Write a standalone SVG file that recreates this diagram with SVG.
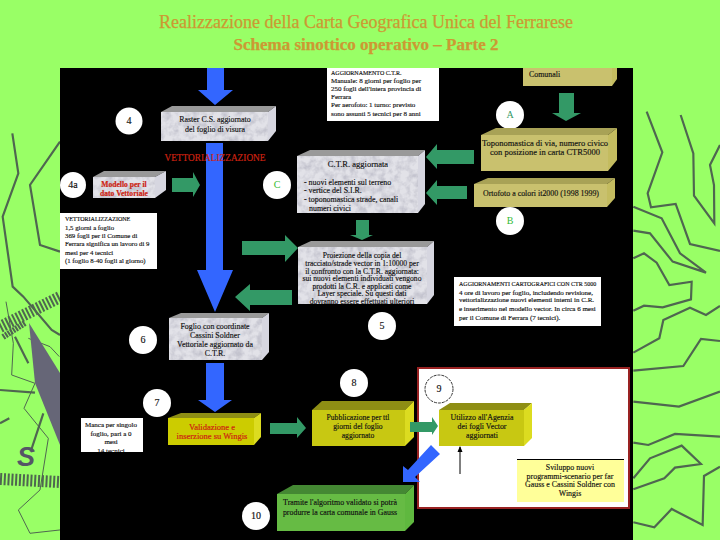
<svg xmlns="http://www.w3.org/2000/svg" width="720" height="540" viewBox="0 0 720 540">
<style>
text{font-family:"Liberation Serif","Times New Roman",serif;font-size:8.5px;fill:#111;stroke:#111;stroke-width:.15}
.c{text-anchor:middle}
.title{font-size:18px;fill:#cc9933;stroke:#cc9933;text-anchor:middle;stroke-width:.25}
.red{fill:#cc2211;stroke:#cc2211;stroke-width:.2}
.num{font-size:10px;text-anchor:middle}
.s8{font-size:7.900px}
.s76{font-size:7.600px}
.s7{font-size:7px}
.s68{font-size:6.800px}
.s6{font-size:6px}
.bg{fill:none;stroke:#4f6650;stroke-width:6.500;stroke-linejoin:miter}
.bg2{fill:none;stroke:#4f6650;stroke-width:3}
.blue{fill:#3366ff}
.green{fill:#339966}
.gf{fill:#e2e2e8;filter:url(#marble)}
.gt{fill:#999}
.gs{fill:#d6d6e0}
.tf{fill:#c9c16e}
.tt{fill:#a8a256}
.ts{fill:#c4bc60}
.yf{fill:#c8c812}
.yt{fill:#8e8e14}
.ys{fill:#dcdc20}
.vf{fill:#cccc00}
.gnf{fill:#66bb44}
.gnt{fill:#448833}
.gns{fill:#5fb83f}
.w{fill:#fff}
.circ{fill:#fff}
</style>
<defs>
<filter id="marble" x="0" y="0" width="100%" height="100%">
<feTurbulence type="fractalNoise" baseFrequency="0.14" numOctaves="3" seed="4" result="n"/>
<feColorMatrix in="n" type="matrix" values="0 0 0 0 .55  0 0 0 0 .55  0 0 0 0 .62  2.600 0 0 0 -1" result="m"/>
<feComposite in="m" in2="SourceAlpha" operator="in" result="mc"/>
<feMerge><feMergeNode in="SourceGraphic"/><feMergeNode in="mc"/></feMerge>
</filter>
<clipPath id="cpTop"><rect x="327" y="70" width="112" height="51"/></clipPath>
<clipPath id="cpPro"><rect x="298" y="247" width="129" height="57"/></clipPath>
<clipPath id="cpRW"><rect x="454" y="277" width="147" height="49"/></clipPath>
<clipPath id="cpW7"><rect x="81" y="418" width="62" height="34"/></clipPath>
<marker id="ah" markerWidth="6" markerHeight="6" refX="5" refY="3" orient="auto"><path d="M0 .5L6 3L0 5.500z" fill="#000"/></marker>
</defs>

<rect width="720" height="540" fill="#99ff66"/>
<g id="background-lines">
<g transform="translate(0,90) scale(.3333)">
<polyline class="bg" points="37,130 55,250 8,380 38,590 70,620 155,720 180,735"/>
<polyline class="bg" points="180,155 90,285 120,465 180,485"/>
<polyline class="bg" points="0,900 105,908"/>
<polyline class="bg" points="130,970 92,1085"/>
<polyline class="bg" points="0,1000 28,985"/>
<polyline class="bg" points="45,740 85,820"/>
<polyline class="bg2" points="18,635 40,760 35,855 105,880"/>
<polyline class="bg2" points="85,745 150,770 178,800"/>
<polyline class="bg2" points="105,880 72,955 145,1045 120,1200 55,1260 90,1330 180,1320"/>
</g>
<polygon points="29,323 60,373 60,445 35,383" fill="#666677"/>
<line x1="0" y1="327" x2="60" y2="297" stroke="#4f6650" stroke-width="12" stroke-dasharray="2 1.800"/>
<line x1="3" y1="337" x2="25" y2="323" stroke="#4f6650" stroke-width="6" stroke-dasharray="2 1"/>
<line x1="0" y1="479" x2="60" y2="482" stroke="#4f6650" stroke-width="12" stroke-dasharray="2 1.800"/>
<text x="26" y="466" style="font-family:'Liberation Sans',sans-serif;font-size:27px;font-weight:bold;font-style:italic;fill:#555566;stroke:none" text-anchor="middle">S</text>
<g transform="translate(630,90) scale(.3333)">
<polyline class="bg" points="50,65 97,187 53,310 63,352 137,342 180,462 270,483"/>
<polyline class="bg" points="152,75 190,190 192,317 253,400 252,285 240,225 270,165"/>
<polyline class="bg" points="10,350 95,385 150,490 228,548 128,515 60,430 10,422"/>
<polyline class="bg" points="10,505 42,490 80,518 118,585 185,575 183,628 98,652 42,647 10,662"/>
<polyline class="bg" points="10,788 88,745 100,690 180,653 228,675 270,648"/>
<polyline class="bg" points="10,842 160,828 213,747 270,753"/>
<polyline class="bg" points="10,935 147,950 270,905"/>
<polyline class="bg" points="10,1058 55,1065 135,1032 270,1040"/>
<polyline class="bg" points="10,1165 60,1105 155,1067 213,1122 135,1133 103,1165 10,1198"/>
<polyline class="bg" points="270,1130 222,1158 218,1305 125,1257 73,1312 10,1297"/>
</g>
</g>

<text class="title" x="366" y="28">Realizzazione della Carta Geografica Unica del Ferrarese</text>
<text class="title" x="366" y="50" style="font-size:17px;font-weight:bold">Schema sinottico operativo – Parte 2</text>

<rect x="60" y="68" width="573" height="472" fill="#000"/>

<g id="connectors">
<polygon class="blue" points="207,68 224,68 224,90 233,90 215,105 198,90 207,90"/>
<polygon class="blue" points="206,143 223,143 223,270 233,270 215,312 197,270 206,270"/>
<polygon class="blue" points="206,363 224,363 224,400 232,400 215,412 198,400 206,400"/>
<polygon class="green" points="172,178 193,178 193,172 200,185 193,197 193,192 172,192"/>
<polygon class="green" points="559,93 574,93 574,113 581,113 566,121 552,113 559,113"/>
<polygon class="green" points="474,150 437,150 437,144 426,157 437,169 437,164 474,164"/>
<polygon class="green" points="467,186 437,186 437,180 426,193 437,205 437,199 467,199"/>
<polygon class="green" points="356,220 369,220 369,235 373,235 362,240 350,235 356,235"/>
<polygon class="green" points="242,241 285,241 285,235 298,248 285,262 285,255 242,255"/>
<polygon class="green" points="292,290 250,290 250,284 235,297 250,311 250,305 292,305"/>
<polygon class="green" points="270,423 297,423 297,417 306,428 297,438 297,434 270,434"/>
</g>

<g id="node-4">
<polygon class="gt" points="161,112 172,106 276,106 268,112"/>
<polygon class="gs" points="268,112 276,106 276,131 268,141"/>
<rect class="gf" x="161" y="112" width="107" height="29"/>
<text class="c s8" x="215" y="122">Raster C.S. aggiornato</text>
<text class="c s8" x="215" y="131.500">del foglio di visura</text>
</g>
<g id="circle-4"><circle class="circ" cx="129" cy="121" r="13.500"/><text class="num" x="129" y="124">4</text></g>
<g id="label-vettorializzazione"><text class="c red" x="215" y="161" style="font-size:9.300px">VETTORIALIZZAZIONE</text></g>

<g id="circle-4a"><circle class="circ" cx="73" cy="185" r="13"/><text class="num" x="73" y="188">4a</text></g>
<g id="node-4a">
<polygon class="gt" points="93,177 104,171 166,171 155,177"/>
<polygon class="gs" points="155,177 166,171 166,190 155,198"/>
<rect class="gf" x="93" y="177" width="62" height="21"/>
<text class="c red s76" x="124" y="187" style="font-weight:bold">Modello per il</text>
<text class="c red s76" x="124" y="196" style="font-weight:bold">dato Vettoriale</text>
</g>
<g id="note-vett">
<rect class="w" x="60" y="213" width="97" height="56"/>
<text class="s6" x="65" y="221">VETTORIALIZZAZIONE</text>
<text class="s68" x="65" y="230">1,5 giorni a foglio</text>
<text class="s68" x="65" y="238">369 fogli per il Comune di</text>
<text class="s68" x="65" y="246">Ferrara significa un lavoro di 9</text>
<text class="s68" x="65" y="255">mesi per 4 tecnici</text>
<text class="s68" x="65" y="263">(1 foglio 8-40 fogli al giorno)</text>
</g>

<g id="note-top">
<rect class="w" x="327" y="68" width="112" height="53"/>
<g clip-path="url(#cpTop)">
<text class="s6" x="331" y="74.500">AGGIORNAMENTO C.T.R.</text>
<text class="s7" x="331" y="82.500">Manuale: 8 giorni per foglio per</text>
<text class="s7" x="331" y="90.500">250 fogli dell'intera provincia di</text>
<text class="s7" x="331" y="98.500">Ferrara</text>
<text class="s7" x="331" y="106.500">Per aerofoto: 1 turno: previsto</text>
<text class="s7" x="331" y="116">sono assunti 5 tecnici per 8 anni</text>
</g>
</g>

<g id="node-comunali">
<rect class="tf" x="523" y="68" width="89" height="18"/>
<polygon class="ts" points="612,68 617,68 617,79 612,86"/>
<text class="s8" x="529" y="77">Comunali</text>
</g>
<g id="circle-a"><circle class="circ" cx="510" cy="115" r="14"/><text class="num" x="510" y="118" style="fill:#339966;stroke:none">A</text></g>

<g id="node-toponomastica">
<polygon class="tt" points="481,135 496,128 617,128 608,135"/>
<polygon class="ts" points="608,135 617,128 617,160 608,171"/>
<rect class="tf" x="481" y="135" width="127" height="36"/>
<text class="c" x="545" y="146">Toponomastica di via, numero civico</text>
<text class="c" x="545" y="155">con posizione in carta CTR5000</text>
</g>
<g id="node-ortofoto">
<polygon class="tt" points="474,184 488,178 615,178 607,184"/>
<polygon class="ts" points="607,184 615,178 615,198 607,207"/>
<rect class="tf" x="474" y="184" width="133" height="23"/>
<text class="c s8" x="541" y="196">Ortofoto a colori it2000 (1998 1999)</text>
</g>
<g id="circle-b"><circle class="circ" cx="510" cy="221" r="14"/><text class="num" x="510" y="224" style="fill:#33bb33;stroke:none">B</text></g>

<g id="circle-c"><circle class="circ" cx="277" cy="185" r="14"/><text class="num" x="277" y="188" style="fill:#33bb33;stroke:none">C</text></g>
<g id="node-ctr">
<polygon class="gt" points="297,156 310,150 425,150 418,156"/>
<polygon class="gs" points="418,156 425,150 425,204 418,213"/>
<rect class="gf" x="297" y="156" width="121" height="57"/>
<text class="c" x="358" y="167">C.T.R. aggiornata</text>
<text class="s8" x="304" y="185">- nuovi elementi sul terreno</text>
<text class="s8" x="304" y="193">- vertice del S.I.R.</text>
<text class="s8" x="304" y="202">- toponomastica strade, canali</text>
<text class="s8" x="309" y="211">numeri civici</text>
</g>

<g id="node-proiezione">
<polygon class="gt" points="298,247 311,241 434,241 427,247"/>
<polygon class="gs" points="427,247 434,241 434,295 427,304"/>
<rect class="gf" x="298" y="247" width="129" height="57"/>
<g clip-path="url(#cpPro)">
<text class="c s76" x="362" y="258">Proiezione della copia del</text>
<text class="c s76" x="362" y="265.500">tracciato/strade vector in 1:10000 per</text>
<text class="c s76" x="362" y="273.500">il confronto con la C.T.R. aggiornata:</text>
<text class="c s76" x="362" y="281">sui nuovi elementi individuati vengono</text>
<text class="c s76" x="362" y="288.500">prodotti la C.R. e applicati come</text>
<text class="c s76" x="362" y="296">Layer speciale. Su questi dati</text>
<text class="c s76" x="362" y="304">dovranno essere effettuati ulteriori</text>
</g>
</g>

<g id="note-right">
<rect class="w" x="454" y="277" width="147" height="49"/>
<g clip-path="url(#cpRW)">
<text class="s6" x="459" y="286">AGGIORNAMENTI CARTOGRAFICI CON CTR 5000</text>
<text class="s7" x="459" y="294.500">4 ore di lavoro per foglio, includendo revisione,</text>
<text class="s7" x="459" y="302">vettorializzazione nuovi elementi interni in C.R.</text>
<text class="s7" x="459" y="310.500">e inserimento nel modello vector. In circa 6 mesi</text>
<text class="s7" x="459" y="319.500">per il Comune di Ferrara (7 tecnici).</text>
</g>
</g>
<g id="circle-5"><circle class="circ" cx="382" cy="326" r="14"/><text class="num" x="382" y="329">5</text></g>

<g id="node-6">
<polygon class="gt" points="169,318 181,313 269,313 262,318"/>
<polygon class="gs" points="262,318 269,313 269,352 262,360"/>
<rect class="gf" x="169" y="318" width="93" height="42"/>
<text class="c s8" x="215" y="329">Foglio con coordinate</text>
<text class="c s8" x="215" y="338">Cassini Soldner</text>
<text class="c s8" x="215" y="347">Vettoriale aggiornato da</text>
<text class="c s8" x="215" y="356">C.T.R.</text>
</g>
<g id="circle-6"><circle class="circ" cx="143" cy="340" r="14"/><text class="num" x="143" y="343">6</text></g>
<g id="circle-7"><circle class="circ" cx="157" cy="403" r="14"/><text class="num" x="157" y="406">7</text></g>
<g id="note-7">
<rect class="w" x="81" y="418" width="62" height="34"/>
<g clip-path="url(#cpW7)">
<text class="c s7" x="111" y="427">Manca per singolo</text>
<text class="c s7" x="111" y="436">foglio, pari a 0</text>
<text class="c s7" x="111" y="444">mesi</text>
<text class="c s7" x="111" y="452.500">14 tecnici</text>
</g>
</g>
<g id="node-validazione">
<polygon class="yt" points="168,418 181,413 261,413 254,418"/>
<polygon class="ys" points="254,418 261,413 261,437 254,445"/>
<rect class="vf" x="168" y="418" width="86" height="27"/>
<text class="c red" x="212" y="430">Validazione e</text>
<text class="c red" x="212" y="439">inserzione su Wingis</text>
</g>

<g id="circle-8"><circle class="circ" cx="354" cy="383" r="14"/><text class="num" x="354" y="386">8</text></g>

<g id="panel-9"><rect x="418" y="368" width="211" height="140" fill="#fff" stroke="#992222" stroke-width="2"/></g>
<g id="node-10">
<polygon class="gnt" points="277,494 293,485 414,485 405,494"/>
<polygon class="gns" points="405,494 414,485 414,522 405,531"/>
<rect class="gnf" x="277" y="494" width="128" height="37"/>
<text class="c s8" x="340" y="505">Tramite l'algoritmo validato si potrà</text>
<text class="c s8" x="340" y="515">produrre la carta comunale in Gauss</text>
</g>
<g id="node-pubblicazione">
<polygon class="yt" points="312,410 322,401 414,401 405,410"/>
<polygon class="ys" points="405,410 414,401 414,437 405,446"/>
<rect class="yf" x="312" y="410" width="93" height="36"/>
<text class="c s76" x="358" y="420">Pubblicazione per ttl</text>
<text class="c s76" x="358" y="429">giorni del foglio</text>
<text class="c s76" x="358" y="438">aggiornato</text>
</g>
<g id="circle-9"><circle cx="439" cy="389" r="14" fill="#fff" stroke="#333" stroke-width="1" stroke-dasharray="3 1"/><text class="num" x="439" y="392">9</text></g>
<g id="node-utilizzo">
<polygon class="yt" points="439,410 450,403 532,403 524,410"/>
<polygon class="ys" points="524,410 532,403 532,438 524,446"/>
<rect class="yf" x="439" y="410" width="85" height="36"/>
<text class="c s8" x="482" y="420">Utilizzo all'Agenzia</text>
<text class="c s8" x="482" y="429">dei fogli Vector</text>
<text class="c s8" x="482" y="438">aggiornati</text>
</g>
<g id="connectors-2">
<polygon class="green" points="410,422 432,422 432,417 438,426 432,435 432,432 410,432"/>
<polygon class="blue" points="431,445 440,454 415,477 420,482 403,482 403,466 408,470"/>
<line x1="460" y1="474" x2="460" y2="447" stroke="#000" stroke-width="1" marker-end="url(#ah)"/>
</g>
<g id="note-yellow">
<rect x="517" y="459" width="107" height="43" fill="#ffff99"/>
<line x1="517" y1="459.500" x2="624" y2="459.500" stroke="#000" stroke-width="1"/>
<text class="c s8" x="570" y="470">Sviluppo nuovi</text>
<text class="c s8" x="570" y="479">programmi-scenario per far</text>
<text class="c s8" x="570" y="487">Gauss e Cassini Soldner con</text>
<text class="c s8" x="570" y="496">Wingis</text>
</g>
<g id="circle-10"><circle class="circ" cx="256" cy="516" r="14"/><text class="num" x="256" y="519">10</text></g>
</svg>
